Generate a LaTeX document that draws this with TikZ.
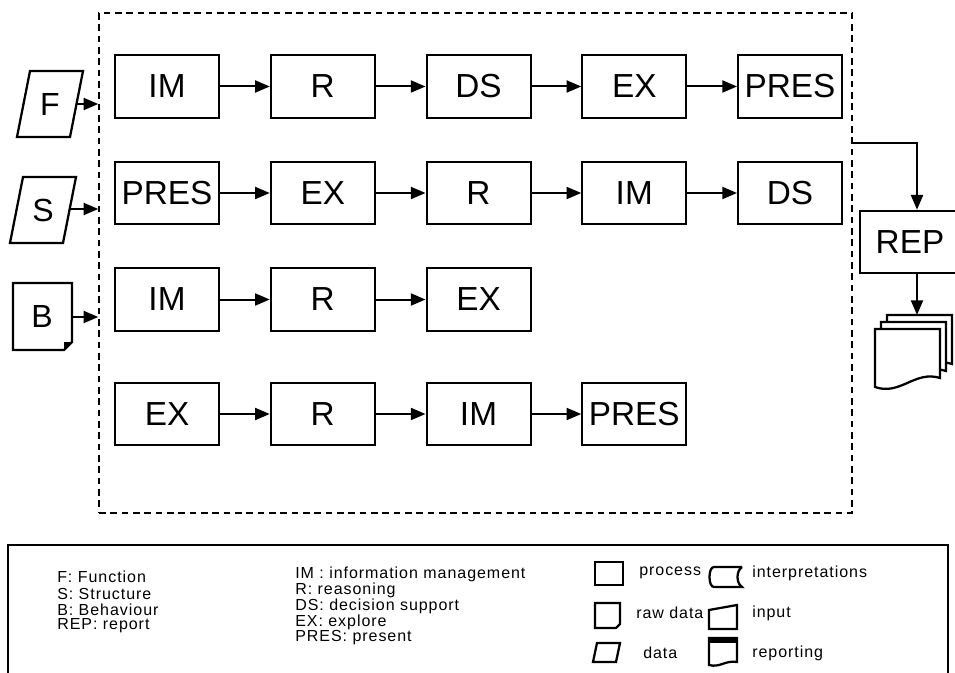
\documentclass[tikz,border=0pt]{standalone}
\usepackage{fontspec}
\setmainfont{Liberation Sans}
\newfontfamily\legfont[LetterSpace=6]{Liberation Sans}
\usetikzlibrary{arrows.meta,positioning,calc}

\tikzset{
  procbox/.style={draw,line width=1.5pt,minimum width=78pt,minimum height=47pt,inner sep=0pt,font=\fontsize{25}{28}\selectfont},
  inlabel/.style={inner sep=0pt,font=\fontsize{24}{26}\selectfont},
  flowarrow/.style={-{Triangle[length=11pt,width=9pt]},line width=1.5pt},
  shapeline/.style={line width=1.7pt,line join=miter},
  legtext/.style={anchor=west,inner sep=0pt,font=\legfont\fontsize{12}{13}\selectfont},
}

\begin{document}
\begin{tikzpicture}[x=0.75pt,y=-0.75pt]
  \useasboundingbox (0,0) rectangle (955,673);
  % dashed frame round the chains
  \node[draw,dash pattern=on 5pt off 3.5pt,line width=1.1pt,minimum width=564.75pt,minimum height=375pt,inner sep=0pt] (frame) at (475.5,263) {};

  % chains of steps
  \foreach \lab [count=\i] in {IM,R,DS,EX,PRES}
    \node[procbox] (a\i) at ({167+155.75*(\i-1)},86.5) {\lab};
  \foreach \lab [count=\i] in {PRES,EX,R,IM,DS}
    \node[procbox] (b\i) at ({167+155.75*(\i-1)},193) {\lab};
  \foreach \lab [count=\i] in {IM,R,EX}
    \node[procbox] (c\i) at ({167+155.75*(\i-1)},299.5) {\lab};
  \foreach \lab [count=\i] in {EX,R,IM,PRES}
    \node[procbox] (d\i) at ({167+155.75*(\i-1)},414) {\lab};

  \foreach \i/\j in {1/2,2/3,3/4,4/5} {
    \draw[flowarrow] (a\i) -- (a\j);
    \draw[flowarrow] (b\i) -- (b\j);
  }
  \foreach \i/\j in {1/2,2/3} \draw[flowarrow] (c\i) -- (c\j);
  \foreach \i/\j in {1/2,2/3,3/4} \draw[flowarrow] (d\i) -- (d\j);

  % inputs F, S, B
  \draw[shapeline] (30,71) -- (83,71) -- (70,137) -- (17,137) -- cycle;
  \node[inlabel] (F) at (50,104) {F};
  \coordinate (fout) at (76.5,104);
  \draw[shapeline] (23,177) -- (76,177) -- (63,243) -- (10,243) -- cycle;
  \node[inlabel] (S) at (43,210) {S};
  \coordinate (sout) at (69.5,209);
  \draw[shapeline] (13,283) -- (72,283) -- (72,342) -- (64,350) -- (13,350) -- cycle;
  \fill (64,350) -- (72,342) -- (64,342) -- cycle;
  \node[inlabel] (B) at (42,316) {B};
  \coordinate (bout) at (72,317);

  \draw[flowarrow] (fout) -- (fout -| frame.west);
  \draw[flowarrow] (sout) -- (sout -| frame.west);
  \draw[flowarrow] (bout) -- (bout -| frame.west);

  % report and documents
  \node[procbox,minimum width=75pt] (REP) at (910,242) {REP};
  \coordinate (tap) at (852,143);
  \coordinate (docs) at (917,315);
  \draw[flowarrow] (tap) -| ([xshift=5.25pt]REP.north);
  \draw[flowarrow] (REP.south -| docs) -- (docs);
  \foreach \dx/\dy in {12/-14,6/-7,0/0}
    \draw[shapeline,fill=white,shift={(\dx,\dy)}] (875,329) -- (940,329) -- (940,378)
      .. controls (915,370) and (900,396) .. (875,387) -- cycle;

  % legend
  \draw[line width=2pt] (8,680) -- (8,545) -- (948,545) -- (948,680);
  \node[legtext] (lf) at (57,577) {F: Function};
  \node[legtext] (ls) at (57,594) {S: Structure};
  \node[legtext] (lb) at (57,610) {B: Behaviour};
  \node[legtext] (lrep) at (57,626) {REP: report};
  \node[legtext] (lim) at (295,574) {IM : information management};
  \node[legtext] (lr) at (295,590) {R: reasoning};
  \node[legtext] (lds) at (295,606) {DS: decision support};
  \node[legtext] (lex) at (295,622) {EX: explore};
  \node[legtext] (lpres) at (295,638) {PRES: present};

  \draw[shapeline] (595,562) rectangle (623,585);
  \node[legtext] (lproc) at (639,573) {process};
  \draw[shapeline] (742,567) -- (714,567) .. controls (708,567) and (708,587) .. (714,587) -- (742,587)
    .. controls (736,583) and (736,571) .. (742,567);
  \node[legtext] (linterp) at (752,573) {interpretations};
  \draw[shapeline] (595,603) -- (620,603) -- (620,624) -- (616,628) -- (595,628) -- cycle;
  \node[legtext] (lraw) at (636,613) {raw data};
  \draw[shapeline] (709,610) -- (737,605) -- (737,629) -- (709,629) -- cycle;
  \node[legtext] (linput) at (752,613) {input};
  \draw[shapeline] (597,643) -- (620,643) -- (616,662) -- (593,662) -- cycle;
  \node[legtext] (ldata) at (643,653) {data};
  \draw[shapeline] (709,638) -- (737,638) -- (737,662) .. controls (725,660) and (720,668) .. (709,665) -- cycle;
  \fill (709,638) rectangle (737,643);
  \node[legtext] (lrepo) at (752,653) {reporting};
\end{tikzpicture}
\end{document}
